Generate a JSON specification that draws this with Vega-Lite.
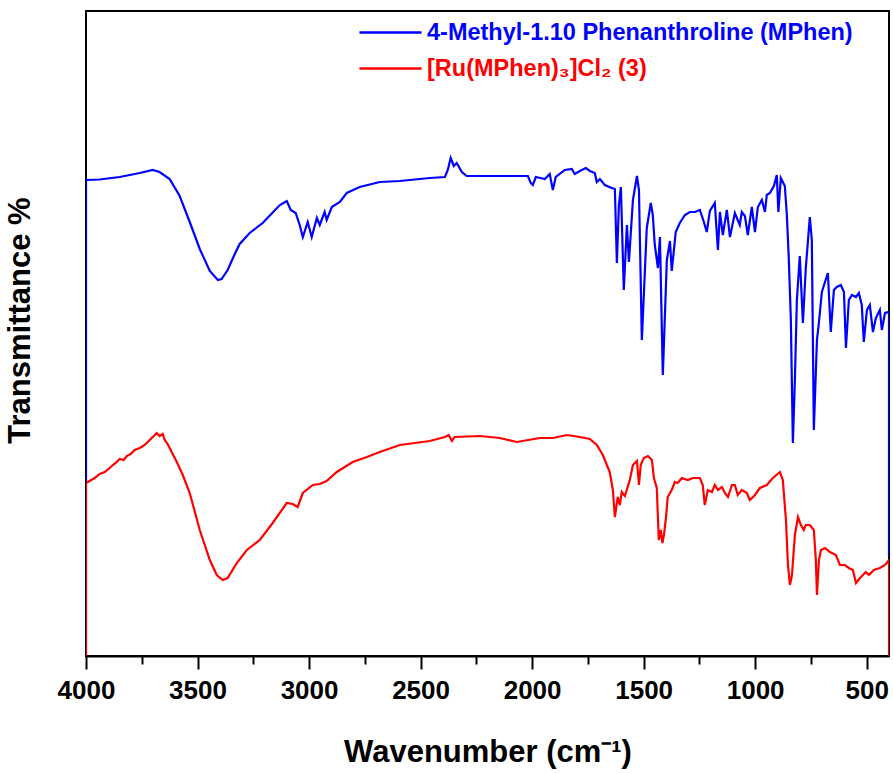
{
  "$schema": "https://vega.github.io/schema/vega-lite/v6.json",
  "width": 803,
  "height": 645,
  "autosize": {"type": "none"},
  "padding": {"left": 86, "top": 11, "right": 4, "bottom": 117},
  "config": {
    "view": {"stroke": "black", "strokeWidth": 2},
    "font": "Liberation Sans"
  },
  "data": {
    "values": [
      {"s":"MPhen","k":0,"w":4000,"t":173},{"s":"MPhen","k":1,"w":4000,"t":476},{"s":"MPhen","k":2,"w":3939,"t":476.5},{"s":"MPhen","k":3,"w":3849,"t":479},{"s":"MPhen","k":4,"w":3759,"t":483},{"s":"MPhen","k":5,"w":3701,"t":486},{"s":"MPhen","k":6,"w":3670,"t":484},{"s":"MPhen","k":7,"w":3625,"t":477},{"s":"MPhen","k":8,"w":3580,"t":460},{"s":"MPhen","k":9,"w":3535,"t":434},{"s":"MPhen","k":10,"w":3490,"t":407},{"s":"MPhen","k":11,"w":3445,"t":385},{"s":"MPhen","k":12,"w":3409,"t":376},{"s":"MPhen","k":13,"w":3392,"t":377},{"s":"MPhen","k":14,"w":3365,"t":386},{"s":"MPhen","k":15,"w":3333,"t":402},{"s":"MPhen","k":16,"w":3311,"t":412},{"s":"MPhen","k":17,"w":3266,"t":423},{"s":"MPhen","k":18,"w":3208,"t":433},{"s":"MPhen","k":19,"w":3131,"t":451},{"s":"MPhen","k":20,"w":3100,"t":455},{"s":"MPhen","k":21,"w":3082,"t":446},{"s":"MPhen","k":22,"w":3060,"t":443},{"s":"MPhen","k":23,"w":3042,"t":431},{"s":"MPhen","k":24,"w":3028,"t":419},{"s":"MPhen","k":25,"w":3006,"t":434},{"s":"MPhen","k":26,"w":2988,"t":419},{"s":"MPhen","k":27,"w":2965,"t":438},{"s":"MPhen","k":28,"w":2952,"t":431},{"s":"MPhen","k":29,"w":2930,"t":444},{"s":"MPhen","k":30,"w":2921,"t":436},{"s":"MPhen","k":31,"w":2898,"t":449},{"s":"MPhen","k":32,"w":2862,"t":454},{"s":"MPhen","k":33,"w":2831,"t":463},{"s":"MPhen","k":34,"w":2773,"t":469},{"s":"MPhen","k":35,"w":2683,"t":474},{"s":"MPhen","k":36,"w":2593,"t":475},{"s":"MPhen","k":37,"w":2459,"t":478},{"s":"MPhen","k":38,"w":2391,"t":479},{"s":"MPhen","k":39,"w":2378,"t":486},{"s":"MPhen","k":40,"w":2365,"t":498},{"s":"MPhen","k":41,"w":2351,"t":490},{"s":"MPhen","k":42,"w":2338,"t":493},{"s":"MPhen","k":43,"w":2315,"t":484},{"s":"MPhen","k":44,"w":2293,"t":480},{"s":"MPhen","k":45,"w":2145,"t":480},{"s":"MPhen","k":46,"w":2019,"t":480},{"s":"MPhen","k":47,"w":2006,"t":473},{"s":"MPhen","k":48,"w":1997,"t":471},{"s":"MPhen","k":49,"w":1983,"t":479},{"s":"MPhen","k":50,"w":1943,"t":477},{"s":"MPhen","k":51,"w":1921,"t":482},{"s":"MPhen","k":52,"w":1907,"t":466},{"s":"MPhen","k":53,"w":1894,"t":479},{"s":"MPhen","k":54,"w":1853,"t":486},{"s":"MPhen","k":55,"w":1822,"t":487},{"s":"MPhen","k":56,"w":1809,"t":482},{"s":"MPhen","k":57,"w":1786,"t":485},{"s":"MPhen","k":58,"w":1759,"t":488},{"s":"MPhen","k":59,"w":1741,"t":485},{"s":"MPhen","k":60,"w":1719,"t":483},{"s":"MPhen","k":61,"w":1710,"t":474},{"s":"MPhen","k":62,"w":1696,"t":477},{"s":"MPhen","k":63,"w":1674,"t":471},{"s":"MPhen","k":64,"w":1643,"t":468},{"s":"MPhen","k":65,"w":1629,"t":467},{"s":"MPhen","k":66,"w":1620,"t":393},{"s":"MPhen","k":67,"w":1611,"t":451},{"s":"MPhen","k":68,"w":1602,"t":469},{"s":"MPhen","k":69,"w":1589,"t":366},{"s":"MPhen","k":70,"w":1575,"t":431},{"s":"MPhen","k":71,"w":1566,"t":394},{"s":"MPhen","k":72,"w":1548,"t":456},{"s":"MPhen","k":73,"w":1530,"t":480},{"s":"MPhen","k":74,"w":1521,"t":466},{"s":"MPhen","k":75,"w":1508,"t":316},{"s":"MPhen","k":76,"w":1486,"t":428},{"s":"MPhen","k":77,"w":1468,"t":453},{"s":"MPhen","k":78,"w":1459,"t":441},{"s":"MPhen","k":79,"w":1450,"t":411},{"s":"MPhen","k":80,"w":1436,"t":388},{"s":"MPhen","k":81,"w":1427,"t":419},{"s":"MPhen","k":82,"w":1414,"t":281},{"s":"MPhen","k":83,"w":1396,"t":396},{"s":"MPhen","k":84,"w":1382,"t":415},{"s":"MPhen","k":85,"w":1374,"t":385},{"s":"MPhen","k":86,"w":1356,"t":424},{"s":"MPhen","k":87,"w":1338,"t":433},{"s":"MPhen","k":88,"w":1315,"t":441},{"s":"MPhen","k":89,"w":1293,"t":444},{"s":"MPhen","k":90,"w":1270,"t":444},{"s":"MPhen","k":91,"w":1248,"t":446},{"s":"MPhen","k":92,"w":1230,"t":434},{"s":"MPhen","k":93,"w":1217,"t":424},{"s":"MPhen","k":94,"w":1203,"t":445},{"s":"MPhen","k":95,"w":1181,"t":453},{"s":"MPhen","k":96,"w":1167,"t":406},{"s":"MPhen","k":97,"w":1158,"t":444},{"s":"MPhen","k":98,"w":1145,"t":421},{"s":"MPhen","k":99,"w":1127,"t":446},{"s":"MPhen","k":100,"w":1113,"t":419},{"s":"MPhen","k":101,"w":1091,"t":443},{"s":"MPhen","k":102,"w":1069,"t":431},{"s":"MPhen","k":103,"w":1060,"t":444},{"s":"MPhen","k":104,"w":1046,"t":440},{"s":"MPhen","k":105,"w":1033,"t":421},{"s":"MPhen","k":106,"w":1015,"t":449},{"s":"MPhen","k":107,"w":1001,"t":424},{"s":"MPhen","k":108,"w":988,"t":449},{"s":"MPhen","k":109,"w":970,"t":456},{"s":"MPhen","k":110,"w":956,"t":444},{"s":"MPhen","k":111,"w":948,"t":461},{"s":"MPhen","k":112,"w":934,"t":463},{"s":"MPhen","k":113,"w":916,"t":470},{"s":"MPhen","k":114,"w":903,"t":481},{"s":"MPhen","k":115,"w":896,"t":444},{"s":"MPhen","k":116,"w":885,"t":478},{"s":"MPhen","k":117,"w":867,"t":470},{"s":"MPhen","k":118,"w":858,"t":441},{"s":"MPhen","k":119,"w":849,"t":396},{"s":"MPhen","k":120,"w":840,"t":336},{"s":"MPhen","k":121,"w":831,"t":213},{"s":"MPhen","k":122,"w":822,"t":276},{"s":"MPhen","k":123,"w":813,"t":356},{"s":"MPhen","k":124,"w":800,"t":400},{"s":"MPhen","k":125,"w":786,"t":333},{"s":"MPhen","k":126,"w":773,"t":388},{"s":"MPhen","k":127,"w":755,"t":439},{"s":"MPhen","k":128,"w":746,"t":416},{"s":"MPhen","k":129,"w":737,"t":226},{"s":"MPhen","k":130,"w":723,"t":316},{"s":"MPhen","k":131,"w":714,"t":334},{"s":"MPhen","k":132,"w":701,"t":364},{"s":"MPhen","k":133,"w":687,"t":374},{"s":"MPhen","k":134,"w":674,"t":383},{"s":"MPhen","k":135,"w":661,"t":324},{"s":"MPhen","k":136,"w":647,"t":366},{"s":"MPhen","k":137,"w":634,"t":369},{"s":"MPhen","k":138,"w":616,"t":371},{"s":"MPhen","k":139,"w":602,"t":364},{"s":"MPhen","k":140,"w":593,"t":308},{"s":"MPhen","k":141,"w":580,"t":356},{"s":"MPhen","k":142,"w":566,"t":361},{"s":"MPhen","k":143,"w":548,"t":359},{"s":"MPhen","k":144,"w":535,"t":363},{"s":"MPhen","k":145,"w":522,"t":351},{"s":"MPhen","k":146,"w":513,"t":314},{"s":"MPhen","k":147,"w":499,"t":346},{"s":"MPhen","k":148,"w":486,"t":351},{"s":"MPhen","k":149,"w":472,"t":324},{"s":"MPhen","k":150,"w":459,"t":338},{"s":"MPhen","k":151,"w":441,"t":346},{"s":"MPhen","k":152,"w":432,"t":326},{"s":"MPhen","k":153,"w":418,"t":343},{"s":"MPhen","k":154,"w":400,"t":344},{"s":"MPhen","k":155,"w":400,"t":99},
      {"s":"Ru","k":0,"w":4000,"t":0},{"s":"Ru","k":1,"w":4000,"t":173},{"s":"Ru","k":2,"w":3961,"t":178},{"s":"Ru","k":3,"w":3939,"t":182},{"s":"Ru","k":4,"w":3916,"t":184},{"s":"Ru","k":5,"w":3894,"t":188},{"s":"Ru","k":6,"w":3880,"t":191},{"s":"Ru","k":7,"w":3862,"t":194},{"s":"Ru","k":8,"w":3849,"t":197},{"s":"Ru","k":9,"w":3831,"t":196},{"s":"Ru","k":10,"w":3817,"t":200},{"s":"Ru","k":11,"w":3800,"t":202},{"s":"Ru","k":12,"w":3782,"t":206},{"s":"Ru","k":13,"w":3759,"t":208},{"s":"Ru","k":14,"w":3737,"t":211},{"s":"Ru","k":15,"w":3714,"t":216},{"s":"Ru","k":16,"w":3696,"t":220},{"s":"Ru","k":17,"w":3683,"t":223},{"s":"Ru","k":18,"w":3670,"t":220},{"s":"Ru","k":19,"w":3656,"t":222},{"s":"Ru","k":20,"w":3647,"t":216},{"s":"Ru","k":21,"w":3634,"t":212},{"s":"Ru","k":22,"w":3616,"t":204},{"s":"Ru","k":23,"w":3593,"t":194},{"s":"Ru","k":24,"w":3566,"t":181},{"s":"Ru","k":25,"w":3535,"t":163},{"s":"Ru","k":26,"w":3490,"t":126},{"s":"Ru","k":27,"w":3445,"t":96},{"s":"Ru","k":28,"w":3414,"t":81},{"s":"Ru","k":29,"w":3387,"t":76},{"s":"Ru","k":30,"w":3365,"t":78},{"s":"Ru","k":31,"w":3324,"t":93},{"s":"Ru","k":32,"w":3279,"t":106},{"s":"Ru","k":33,"w":3221,"t":116},{"s":"Ru","k":34,"w":3163,"t":133},{"s":"Ru","k":35,"w":3100,"t":153},{"s":"Ru","k":36,"w":3073,"t":152},{"s":"Ru","k":37,"w":3051,"t":149},{"s":"Ru","k":38,"w":3028,"t":163},{"s":"Ru","k":39,"w":2983,"t":171},{"s":"Ru","k":40,"w":2952,"t":172},{"s":"Ru","k":41,"w":2921,"t":175},{"s":"Ru","k":42,"w":2876,"t":184},{"s":"Ru","k":43,"w":2804,"t":194},{"s":"Ru","k":44,"w":2741,"t":199},{"s":"Ru","k":45,"w":2683,"t":204},{"s":"Ru","k":46,"w":2593,"t":211},{"s":"Ru","k":47,"w":2459,"t":215},{"s":"Ru","k":48,"w":2391,"t":219},{"s":"Ru","k":49,"w":2374,"t":221},{"s":"Ru","k":50,"w":2360,"t":215},{"s":"Ru","k":51,"w":2347,"t":219},{"s":"Ru","k":52,"w":2234,"t":220},{"s":"Ru","k":53,"w":2145,"t":218},{"s":"Ru","k":54,"w":2069,"t":214},{"s":"Ru","k":55,"w":1965,"t":218},{"s":"Ru","k":56,"w":1907,"t":218},{"s":"Ru","k":57,"w":1844,"t":221},{"s":"Ru","k":58,"w":1786,"t":219},{"s":"Ru","k":59,"w":1741,"t":217},{"s":"Ru","k":60,"w":1710,"t":211},{"s":"Ru","k":61,"w":1683,"t":201},{"s":"Ru","k":62,"w":1665,"t":191},{"s":"Ru","k":63,"w":1652,"t":184},{"s":"Ru","k":64,"w":1638,"t":166},{"s":"Ru","k":65,"w":1629,"t":139},{"s":"Ru","k":66,"w":1616,"t":159},{"s":"Ru","k":67,"w":1607,"t":151},{"s":"Ru","k":68,"w":1598,"t":164},{"s":"Ru","k":69,"w":1584,"t":160},{"s":"Ru","k":70,"w":1562,"t":176},{"s":"Ru","k":71,"w":1548,"t":191},{"s":"Ru","k":72,"w":1530,"t":195},{"s":"Ru","k":73,"w":1521,"t":171},{"s":"Ru","k":74,"w":1513,"t":191},{"s":"Ru","k":75,"w":1499,"t":198},{"s":"Ru","k":76,"w":1481,"t":200},{"s":"Ru","k":77,"w":1463,"t":196},{"s":"Ru","k":78,"w":1454,"t":178},{"s":"Ru","k":79,"w":1441,"t":168},{"s":"Ru","k":80,"w":1432,"t":116},{"s":"Ru","k":81,"w":1423,"t":126},{"s":"Ru","k":82,"w":1416,"t":113},{"s":"Ru","k":83,"w":1409,"t":121},{"s":"Ru","k":84,"w":1400,"t":138},{"s":"Ru","k":85,"w":1392,"t":159},{"s":"Ru","k":86,"w":1374,"t":166},{"s":"Ru","k":87,"w":1360,"t":174},{"s":"Ru","k":88,"w":1347,"t":173},{"s":"Ru","k":89,"w":1329,"t":178},{"s":"Ru","k":90,"w":1302,"t":176},{"s":"Ru","k":91,"w":1279,"t":178},{"s":"Ru","k":92,"w":1248,"t":178},{"s":"Ru","k":93,"w":1235,"t":171},{"s":"Ru","k":94,"w":1226,"t":151},{"s":"Ru","k":95,"w":1212,"t":166},{"s":"Ru","k":96,"w":1194,"t":164},{"s":"Ru","k":97,"w":1181,"t":171},{"s":"Ru","k":98,"w":1167,"t":166},{"s":"Ru","k":99,"w":1149,"t":169},{"s":"Ru","k":100,"w":1136,"t":163},{"s":"Ru","k":101,"w":1122,"t":159},{"s":"Ru","k":102,"w":1104,"t":171},{"s":"Ru","k":103,"w":1091,"t":171},{"s":"Ru","k":104,"w":1078,"t":161},{"s":"Ru","k":105,"w":1060,"t":166},{"s":"Ru","k":106,"w":1037,"t":163},{"s":"Ru","k":107,"w":1024,"t":156},{"s":"Ru","k":108,"w":1001,"t":161},{"s":"Ru","k":109,"w":979,"t":168},{"s":"Ru","k":110,"w":948,"t":171},{"s":"Ru","k":111,"w":921,"t":178},{"s":"Ru","k":112,"w":889,"t":184},{"s":"Ru","k":113,"w":876,"t":176},{"s":"Ru","k":114,"w":862,"t":136},{"s":"Ru","k":115,"w":853,"t":91},{"s":"Ru","k":116,"w":844,"t":71},{"s":"Ru","k":117,"w":835,"t":81},{"s":"Ru","k":118,"w":822,"t":121},{"s":"Ru","k":119,"w":808,"t":139},{"s":"Ru","k":120,"w":795,"t":131},{"s":"Ru","k":121,"w":782,"t":126},{"s":"Ru","k":122,"w":773,"t":131},{"s":"Ru","k":123,"w":755,"t":131},{"s":"Ru","k":124,"w":737,"t":126},{"s":"Ru","k":125,"w":728,"t":96},{"s":"Ru","k":126,"w":723,"t":61},{"s":"Ru","k":127,"w":714,"t":96},{"s":"Ru","k":128,"w":705,"t":106},{"s":"Ru","k":129,"w":687,"t":108},{"s":"Ru","k":130,"w":665,"t":104},{"s":"Ru","k":131,"w":638,"t":101},{"s":"Ru","k":132,"w":620,"t":91},{"s":"Ru","k":133,"w":598,"t":91},{"s":"Ru","k":134,"w":580,"t":88},{"s":"Ru","k":135,"w":562,"t":86},{"s":"Ru","k":136,"w":548,"t":73},{"s":"Ru","k":137,"w":530,"t":78},{"s":"Ru","k":138,"w":504,"t":84},{"s":"Ru","k":139,"w":490,"t":81},{"s":"Ru","k":140,"w":468,"t":86},{"s":"Ru","k":141,"w":441,"t":88},{"s":"Ru","k":142,"w":418,"t":91},{"s":"Ru","k":143,"w":400,"t":96},{"s":"Ru","k":144,"w":400,"t":0}
    ]
  },
  "mark": {"type": "line", "strokeWidth": 2.2, "clip": true},
  "encoding": {
    "x": {
      "field": "w", "type": "quantitative",
      "scale": {"domain": [4000, 400], "nice": false, "zero": false},
      "axis": {
        "values": [4000, 3750, 3500, 3250, 3000, 2750, 2500, 2250, 2000, 1750, 1500, 1250, 1000, 750, 500],
        "format": "d",
        "labelExpr": "datum.value % 500 === 0 ? datum.label : ''",
        "tickSize": {"condition": {"test": "datum.value % 500 === 0", "value": 13}, "value": 8},
        "tickColor": "black", "tickWidth": 2,
        "domain": true, "domainColor": "black", "domainWidth": 2,
        "grid": false,
        "labelFont": "Liberation Sans", "labelFontSize": 26, "labelFontWeight": "bold", "labelColor": "black",
        "labelPadding": 8, "labelFlush": false, "labelOverlap": false,
        "title": "Wavenumber (cm⁻¹)",
        "titleFont": "Liberation Sans", "titleFontSize": 31, "titleFontWeight": "bold", "titleColor": "black",
        "titlePadding": 34
      }
    },
    "y": {
      "field": "t", "type": "quantitative",
      "scale": {"domain": [0, 645], "nice": false, "zero": false},
      "axis": {
        "labels": false, "ticks": false, "domain": false, "grid": false,
        "title": "Transmittance %",
        "titleFont": "Liberation Sans", "titleFontSize": 31, "titleFontWeight": "bold", "titleColor": "black",
        "titlePadding": 50, "titleY": 309
      }
    },
    "color": {
      "field": "s", "type": "nominal",
      "scale": {"domain": ["MPhen", "Ru"], "range": ["#0000ff", "#ff0000"]},
      "legend": {
        "orient": "none", "legendX": 280, "legendY": -3,
        "title": null,
        "symbolType": "M-1.35,0H1.35", "symbolSize": 2116, "symbolStrokeWidth": 2.5,
        "labelExpr": "datum.value == 'MPhen' ? '4-Methyl-1.10 Phenanthroline (MPhen)' : '[Ru(MPhen)₃]Cl₂ (3)'",
        "labelColor": {"expr": "datum.value == 'MPhen' ? '#0000ff' : '#ff0000'"},
        "labelFont": "Liberation Sans", "labelFontSize": 23.5, "labelFontWeight": "bold",
        "labelLimit": 700, "labelOffset": 12, "rowPadding": 0
      }
    },
    "order": {"field": "k", "type": "quantitative"}
  }
}
